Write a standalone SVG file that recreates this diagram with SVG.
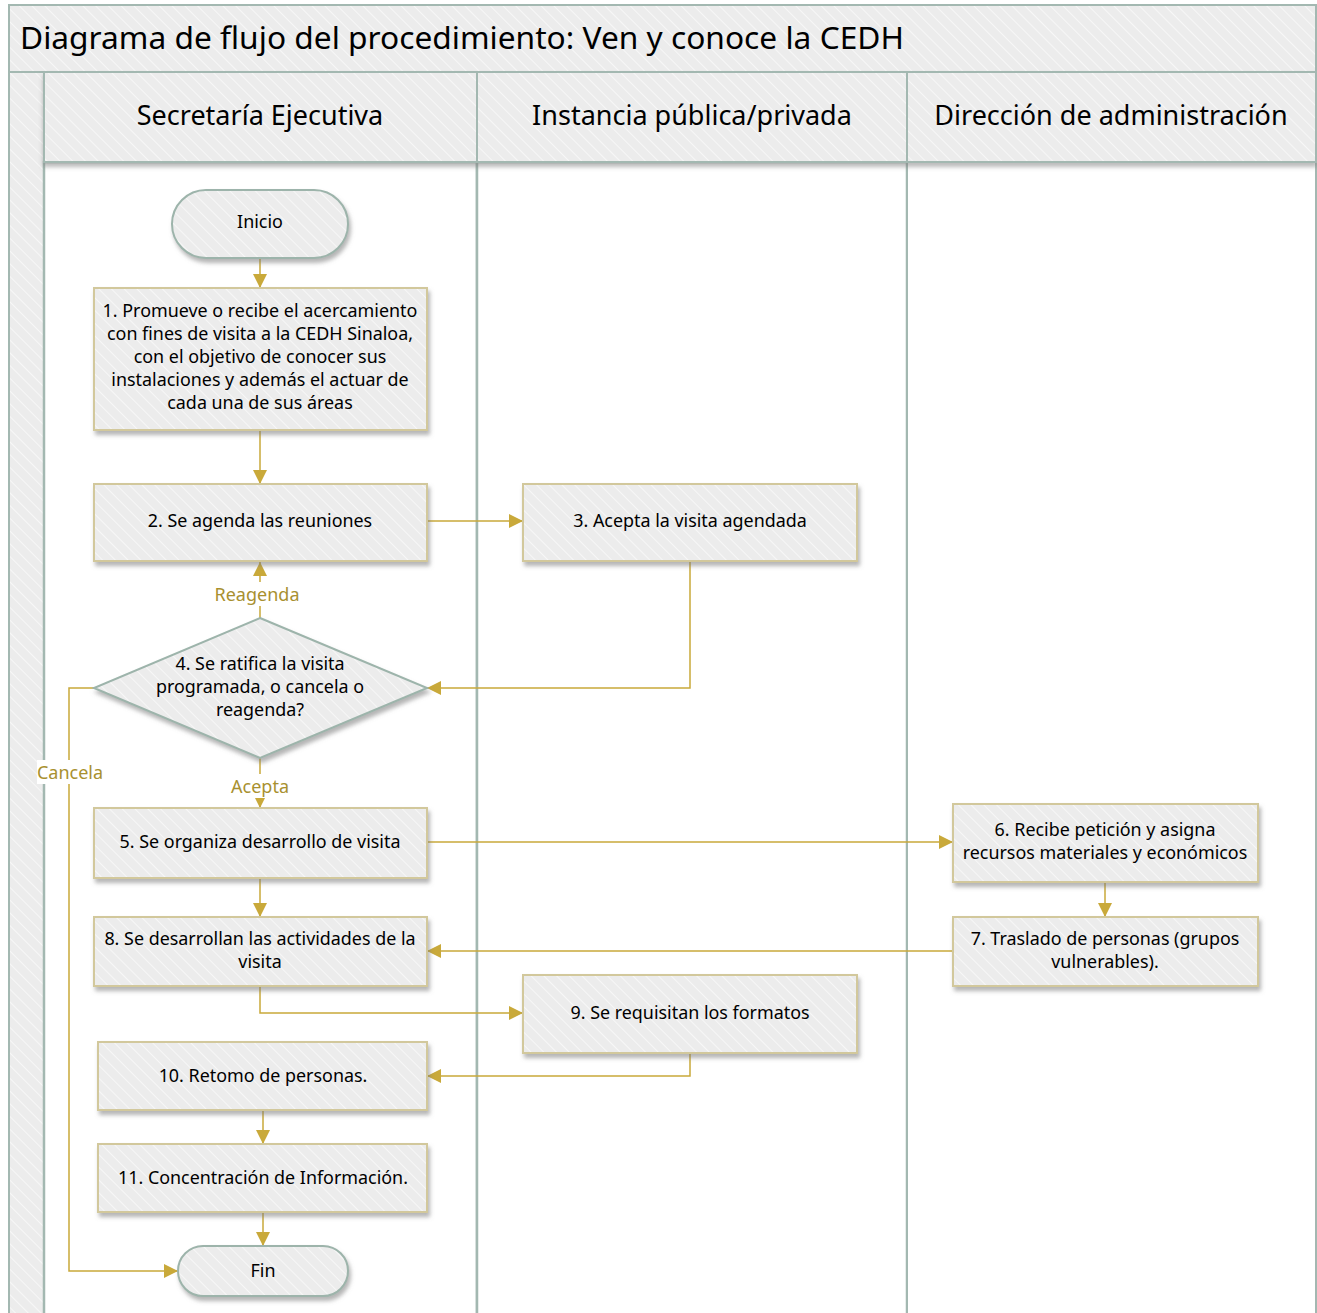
<svg xmlns="http://www.w3.org/2000/svg" width="1317" height="1313" viewBox="0 0 1317 1313">
<style>
.t{font-family:"Noto Sans","Open Sans","DejaVu Sans",sans-serif;fill:#000;text-anchor:middle}
.n{font-size:17.9px}
.h{font-size:27px}
.lbl{font-family:"Noto Sans","Open Sans","DejaVu Sans",sans-serif;font-size:18px;fill:#A8902F;text-anchor:middle}
.box{fill:url(#hatch);stroke:#D2C89C;stroke-width:2;filter:url(#sh)}
.term{fill:url(#hatch);stroke:#9DB4AB;stroke-width:2;filter:url(#sh)}
.lane{fill:url(#hatch);stroke:#A3B8B1;stroke-width:2}
.c{fill:none;stroke:#C9A93A;stroke-width:1.5;marker-end:url(#ah)}
.cn{fill:none;stroke:#C9A93A;stroke-width:1.5}
</style>
<defs>
<pattern id="hatch" patternUnits="userSpaceOnUse" width="9" height="9" patternTransform="rotate(-45)">
<rect width="9" height="9" fill="#ECECEC"/>
<line x1="0" y1="0" x2="0" y2="9" stroke="#F7F7F7" stroke-width="2"/>
</pattern>
<filter id="sh" x="-10%" y="-10%" width="125%" height="135%">
<feDropShadow dx="2" dy="4" stdDeviation="2" flood-color="#777" flood-opacity="0.55"/>
</filter>
<filter id="hsh" x="-5%" y="-10%" width="110%" height="130%">
<feDropShadow dx="0" dy="4" stdDeviation="2" flood-color="#777" flood-opacity="0.5"/>
</filter>
<marker id="ah" markerWidth="14" markerHeight="14" viewBox="0 0 14 14" refX="14" refY="7" orient="auto" markerUnits="userSpaceOnUse">
<path d="M0,0 L14,7 L0,14 Z" fill="#C9A93A"/>
</marker>
</defs>
<rect width="1317" height="1313" fill="#fff"/>

<g id="pool">
<rect x="9" y="5" width="1307" height="1320" fill="#fff" stroke="#A3B8B1" stroke-width="2"/>
<rect x="9" y="5" width="1307" height="67" class="lane"/>
<text x="20" y="49" style="font-family:'Noto Sans','Open Sans',sans-serif;font-size:31.7px;fill:#000">Diagrama de flujo del procedimiento: Ven y conoce la CEDH</text>
<rect x="9" y="72" width="35" height="1250" class="lane"/>
</g>

<g id="lanes">
<rect x="44" y="162" width="433" height="1160" fill="#fff" stroke="#A3B8B1" stroke-width="2.5"/>
<rect x="477" y="162" width="430" height="1160" fill="#fff" stroke="#A3B8B1" stroke-width="2.5"/>
<rect x="907" y="162" width="409" height="1160" fill="#fff" stroke="#A3B8B1" stroke-width="2"/>
<g filter="url(#hsh)">
<rect x="44" y="72" width="433" height="90" class="lane"/>
<rect x="477" y="72" width="430" height="90" class="lane"/>
<rect x="907" y="72" width="409" height="90" class="lane"/>
</g>
<text x="260" y="125" class="t h">Secretaría Ejecutiva</text>
<text x="692" y="125" class="t h">Instancia pública/privada</text>
<text x="1111" y="125" class="t h">Dirección de administración</text>
</g>

<g id="connectors">
<line x1="260" y1="258" x2="260" y2="288" class="c"/>
<line x1="260" y1="430" x2="260" y2="484" class="c"/>
<line x1="427" y1="521" x2="523" y2="521" class="c"/>
<polyline points="690,561 690,688 427,688" class="c"/>
<line x1="260" y1="618" x2="260" y2="562" class="c"/>
<line x1="260" y1="758" x2="260" y2="808" class="c"/>
<polyline points="94,688 69,688 69,1271 178,1271" class="c"/>
<line x1="427" y1="842" x2="953" y2="842" class="c"/>
<line x1="260" y1="878" x2="260" y2="917" class="c"/>
<line x1="1105" y1="882" x2="1105" y2="917" class="c"/>
<line x1="953" y1="951" x2="427" y2="951" class="c"/>
<polyline points="260,986 260,1013 523,1013" class="c"/>
<polyline points="690,1053 690,1076 427,1076" class="c"/>
<line x1="263" y1="1110" x2="263" y2="1144" class="c"/>
<line x1="263" y1="1212" x2="263" y2="1246" class="c"/>
<rect x="212" y="582" width="90" height="24" fill="#fff"/>
<text x="257" y="601" class="lbl">Reagenda</text>
<rect x="228" y="774" width="64" height="24" fill="#fff"/>
<text x="260" y="793" class="lbl">Acepta</text>
<rect x="37" y="760" width="68" height="24" fill="#fff"/>
<text x="70" y="779" class="lbl">Cancela</text>
</g>

<g id="inicio">
<rect x="172" y="190" width="176" height="68" rx="34" class="term"/>
<text x="260" y="228" class="t n">Inicio</text>
</g>
<g id="n1">
<rect x="94" y="288" width="333" height="142" class="box"/>
<text class="t n"><tspan x="260" y="317">1. Promueve o recibe el acercamiento</tspan><tspan x="260" y="340">con fines de visita a la CEDH Sinaloa,</tspan><tspan x="260" y="363">con el objetivo de conocer sus</tspan><tspan x="260" y="386">instalaciones y además el actuar de</tspan><tspan x="260" y="409">cada una de sus áreas</tspan></text>
</g>
<g id="n2">
<rect x="94" y="484" width="333" height="77" class="box"/>
<text x="260" y="527" class="t n">2. Se agenda las reuniones</text>
</g>
<g id="n3">
<rect x="523" y="484" width="334" height="77" class="box"/>
<text x="690" y="527" class="t n">3. Acepta la visita agendada</text>
</g>
<g id="n4">
<polygon points="260,618 427,688 260,758 94,688" class="term"/>
<text class="t n"><tspan x="260" y="670">4. Se ratifica la visita</tspan><tspan x="260" y="693">programada, o cancela o</tspan><tspan x="260" y="716">reagenda?</tspan></text>
</g>
<g id="n5">
<rect x="94" y="808" width="333" height="70" class="box"/>
<text x="260" y="848" class="t n">5. Se organiza desarrollo de visita</text>
</g>
<g id="n6">
<rect x="953" y="804" width="305" height="78" class="box"/>
<text class="t n"><tspan x="1105" y="836">6. Recibe petición y asigna</tspan><tspan x="1105" y="859">recursos materiales y económicos</tspan></text>
</g>
<g id="n7">
<rect x="953" y="917" width="305" height="69" class="box"/>
<text class="t n"><tspan x="1105" y="945">7. Traslado de personas (grupos</tspan><tspan x="1105" y="968">vulnerables).</tspan></text>
</g>
<g id="n8">
<rect x="94" y="917" width="333" height="69" class="box"/>
<text class="t n"><tspan x="260" y="945">8. Se desarrollan las actividades de la</tspan><tspan x="260" y="968">visita</tspan></text>
</g>
<g id="n9">
<rect x="523" y="975" width="334" height="78" class="box"/>
<text x="690" y="1019" class="t n">9. Se requisitan los formatos</text>
</g>
<g id="n10">
<rect x="98" y="1042" width="329" height="68" class="box"/>
<text x="263" y="1082" class="t n">10. Retomo de personas.</text>
</g>
<g id="n11">
<rect x="98" y="1144" width="329" height="68" class="box"/>
<text x="263" y="1184" class="t n">11. Concentración de Información.</text>
</g>
<g id="fin">
<rect x="178" y="1246" width="170" height="50" rx="25" class="term"/>
<text x="263" y="1277" class="t n">Fin</text>
</g>
</svg>
